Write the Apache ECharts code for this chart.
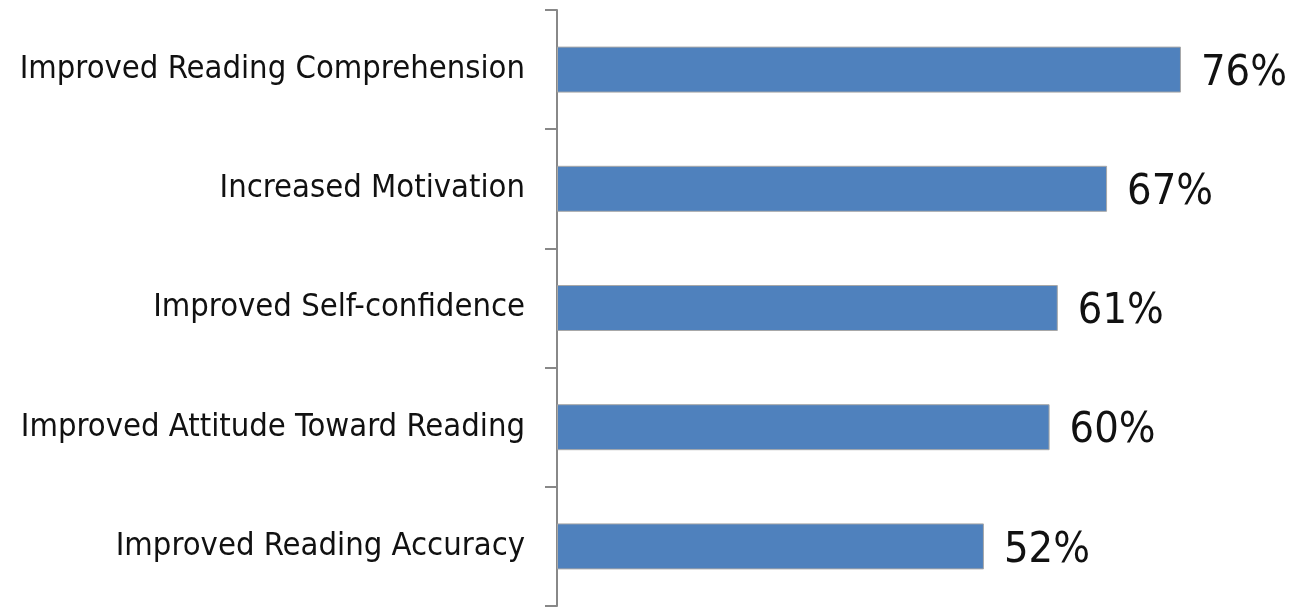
<!DOCTYPE html>
<html>
<head>
<meta charset="utf-8">
<script src="https://cdn.jsdelivr.net/npm/echarts@6/dist/echarts.min.js"></script>
<style>
  html, body { margin: 0; padding: 0; background: #fff; }
  #main { width: 1289px; height: 607px; }
</style>
</head>
<body>
<div id="main"></div>
<script>
// categories top to bottom
var categories = [
    'Improved Reading Comprehension',
    'Increased Motivation',
    'Improved Self-confidence',
    'Improved Attitude Toward Reading',
    'Improved Reading Accuracy'
];
// percent values
var values = [76, 67, 61, 60, 52];

var fontFam = '"DejaVu Sans Condensed", "Liberation Sans", sans-serif';

var myChart = echarts.init(document.getElementById('main'));
var option = {
    animation: false,
    grid: {
        left: 557,
        top: 10,
        width: 821,
        height: 596,
        outerBoundsMode: 'none',
        containLabel: false
    },
    xAxis: {
        type: 'value',
        min: 0,
        max: 100,
        show: false
    },
    yAxis: {
        type: 'category',
        inverse: true,
        data: categories,
        axisLine: { lineStyle: { color: '#888888', width: 2 } },
        axisTick: { show: true, alignWithLabel: false, length: 12, lineStyle: { color: '#888888', width: 2 } },
        axisLabel: {
            margin: 32,
            fontSize: 32.5,
            fontFamily: fontFam,
            color: '#111111'
        }
    },
    series: [{
        type: 'bar',
        data: values,
        barWidth: 46,
        itemStyle: {
            color: '#4F81BD',
            borderColor: '#a8a8a8',
            borderWidth: 1
        },
        label: {
            show: true,
            position: 'right',
            distance: 20,
            offset: [0, 4],
            formatter: '{c}%',
            fontSize: 43,
            fontFamily: fontFam,
            color: '#111111'
        }
    }]
};
myChart.setOption(option);
</script>
</body>
</html>
